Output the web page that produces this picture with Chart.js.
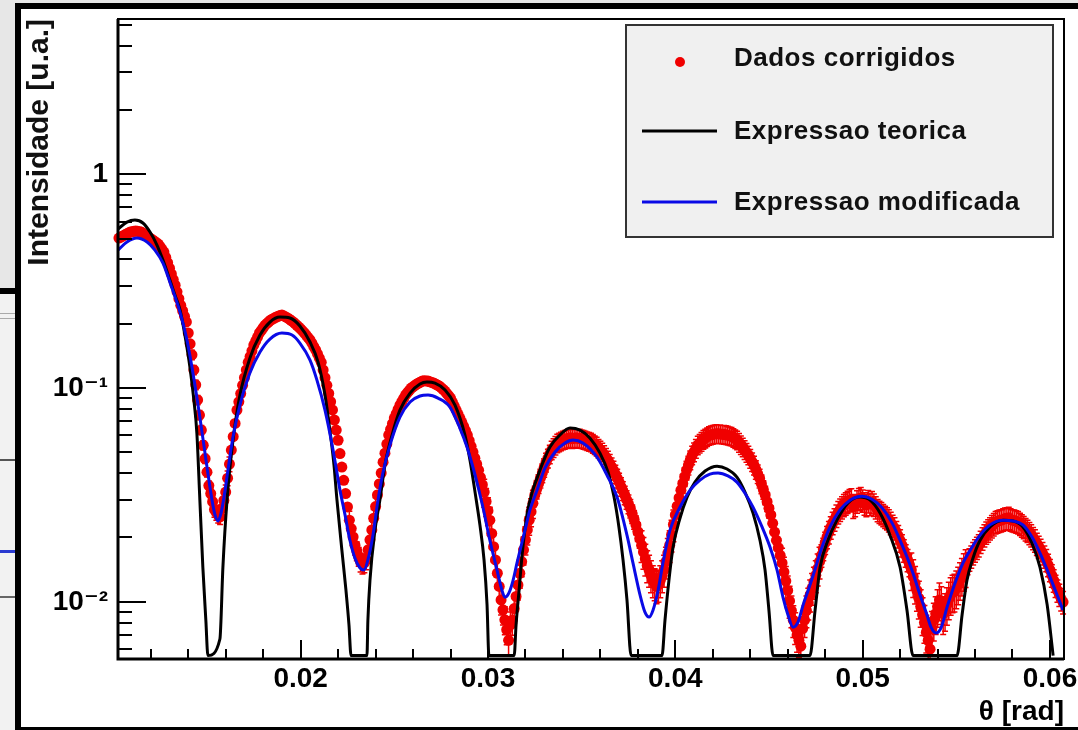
<!DOCTYPE html>
<html><head><meta charset="utf-8">
<script src="https://cdn.jsdelivr.net/npm/chart.js@4.4.1/dist/chart.umd.min.js"></script>
<style>html,body{margin:0;padding:0;background:#fff;overflow:hidden}canvas{display:block}</style>
</head><body>
<canvas id="c" width="1078" height="730"></canvas>
<script>
// ---------- data ----------
const thetaData = [
0.0103,0.0104,0.0105,0.0106,0.0107,0.0108,0.0109,0.0110,0.0111,0.0112,
0.0113,0.0114,0.0115,0.0116,0.0117,0.0118,0.0119,0.0120,0.0121,0.0122,
0.0123,0.0124,0.0125,0.0126,0.0127,0.0128,0.0129,0.0130,0.0131,0.0132,
0.0133,0.0134,0.0135,0.0136,0.0137,0.0138,0.0139,0.0140,0.0141,0.0142,
0.0143,0.0144,0.0145,0.0146,0.0147,0.0148,0.0149,0.0150,0.0151,0.0152,
0.0153,0.0154,0.0155,0.0156,0.0157,0.0158,0.0159,0.0160,0.0161,0.0162,
0.0163,0.0164,0.0165,0.0166,0.0167,0.0168,0.0169,0.0170,0.0171,0.0172,
0.0173,0.0174,0.0175,0.0176,0.0177,0.0178,0.0179,0.0180,0.0181,0.0182,
0.0183,0.0184,0.0185,0.0186,0.0187,0.0188,0.0189,0.0190,0.0191,0.0192,
0.0193,0.0194,0.0195,0.0196,0.0197,0.0198,0.0199,0.0200,0.0201,0.0202,
0.0203,0.0204,0.0205,0.0206,0.0207,0.0208,0.0209,0.0210,0.0211,0.0212,
0.0213,0.0214,0.0215,0.0216,0.0217,0.0218,0.0219,0.0220,0.0221,0.0222,
0.0223,0.0224,0.0225,0.0226,0.0227,0.0228,0.0229,0.0230,0.0231,0.0232,
0.0233,0.0234,0.0235,0.0236,0.0237,0.0238,0.0239,0.0240,0.0241,0.0242,
0.0243,0.0244,0.0245,0.0246,0.0247,0.0248,0.0249,0.0250,0.0251,0.0252,
0.0253,0.0254,0.0255,0.0256,0.0257,0.0258,0.0259,0.0260,0.0261,0.0262,
0.0263,0.0264,0.0265,0.0266,0.0267,0.0268,0.0269,0.0270,0.0271,0.0272,
0.0273,0.0274,0.0275,0.0276,0.0277,0.0278,0.0279,0.0280,0.0281,0.0282,
0.0283,0.0284,0.0285,0.0286,0.0287,0.0288,0.0289,0.0290,0.0291,0.0292,
0.0293,0.0294,0.0295,0.0296,0.0297,0.0298,0.0299,0.0300,0.0301,0.0302,
0.0303,0.0304,0.0305,0.0306,0.0307,0.0308,0.0309,0.0310,0.0311,0.0312,
0.0313,0.0314,0.0315,0.0316,0.0317,0.0318,0.0319,0.0320,0.0321,0.0322,
0.0323,0.0324,0.0325,0.0326,0.0327,0.0328,0.0329,0.0330,0.0331,0.0332,
0.0333,0.0334,0.0335,0.0336,0.0337,0.0338,0.0339,0.0340,0.0341,0.0342,
0.0343,0.0344,0.0345,0.0346,0.0347,0.0348,0.0349,0.0350,0.0351,0.0352,
0.0353,0.0354,0.0355,0.0356,0.0357,0.0358,0.0359,0.0360,0.0361,0.0362,
0.0363,0.0364,0.0365,0.0366,0.0367,0.0368,0.0369,0.0370,0.0371,0.0372,
0.0373,0.0374,0.0375,0.0376,0.0377,0.0378,0.0379,0.0380,0.0381,0.0382,
0.0383,0.0384,0.0385,0.0386,0.0387,0.0388,0.0389,0.0390,0.0391,0.0392,
0.0393,0.0394,0.0395,0.0396,0.0397,0.0398,0.0399,0.0400,0.0401,0.0402,
0.0403,0.0404,0.0405,0.0406,0.0407,0.0408,0.0409,0.0410,0.0411,0.0412,
0.0413,0.0414,0.0415,0.0416,0.0417,0.0418,0.0419,0.0420,0.0421,0.0422,
0.0423,0.0424,0.0425,0.0426,0.0427,0.0428,0.0429,0.0430,0.0431,0.0432,
0.0433,0.0434,0.0435,0.0436,0.0437,0.0438,0.0439,0.0440,0.0441,0.0442,
0.0443,0.0444,0.0445,0.0446,0.0447,0.0448,0.0449,0.0450,0.0451,0.0452,
0.0453,0.0454,0.0455,0.0456,0.0457,0.0458,0.0459,0.0460,0.0461,0.0462,
0.0463,0.0464,0.0465,0.0466,0.0467,0.0468,0.0469,0.0470,0.0471,0.0472,
0.0473,0.0474,0.0475,0.0476,0.0477,0.0478,0.0479,0.0480,0.0481,0.0482,
0.0483,0.0484,0.0485,0.0486,0.0487,0.0488,0.0489,0.0490,0.0491,0.0492,
0.0493,0.0494,0.0495,0.0496,0.0497,0.0498,0.0499,0.0500,0.0501,0.0502,
0.0503,0.0504,0.0505,0.0506,0.0507,0.0508,0.0509,0.0510,0.0511,0.0512,
0.0513,0.0514,0.0515,0.0516,0.0517,0.0518,0.0519,0.0520,0.0521,0.0522,
0.0523,0.0524,0.0525,0.0526,0.0527,0.0528,0.0529,0.0530,0.0531,0.0532,
0.0533,0.0534,0.0535,0.0536,0.0537,0.0538,0.0539,0.0540,0.0541,0.0542,
0.0543,0.0544,0.0545,0.0546,0.0547,0.0548,0.0549,0.0550,0.0551,0.0552,
0.0553,0.0554,0.0555,0.0556,0.0557,0.0558,0.0559,0.0560,0.0561,0.0562,
0.0563,0.0564,0.0565,0.0566,0.0567,0.0568,0.0569,0.0570,0.0571,0.0572,
0.0573,0.0574,0.0575,0.0576,0.0577,0.0578,0.0579,0.0580,0.0581,0.0582,
0.0583,0.0584,0.0585,0.0586,0.0587,0.0588,0.0589,0.0590,0.0591,0.0592,
0.0593,0.0594,0.0595,0.0596,0.0597,0.0598,0.0599,0.0600,0.0601,0.0602,
0.0603,0.0604,0.0605,0.0606,0.0607];
const intensData = [
0.503,0.509,0.514, 0.520,0.526,0.531, 0.537,0.539,0.541, 0.543,0.541,0.539, 0.537,0.529,0.522,
0.514,0.507,0.500, 0.493,0.486,0.479, 0.472,0.459,0.446, 0.433,0.409,0.386, 0.364,0.342,0.322,
0.303,0.282,0.262, 0.244,0.230,0.2166, 0.204,0.181,0.161, 0.143,0.1216,0.1035, 0.088,0.0748,0.0636,
0.054,0.0467,0.0404, 0.035,0.0321,0.0294, 0.027,0.0262,0.0254, 0.025,0.0273,0.0298, 0.0326,0.0379,0.0441,
0.0513,0.0592,0.0683, 0.0789,0.0862,0.0942, 0.103,0.1119,0.1215, 0.132,0.1404,0.1494, 0.159,0.166,0.1733,
0.181,0.186,0.1915, 0.197,0.2006,0.2043, 0.208,0.2103,0.2126, 0.215,0.2166,0.2183, 0.220,0.2176,0.2153,
0.213,0.210,0.207, 0.204,0.2003,0.1966, 0.193,0.189,0.185, 0.181,0.1766,0.1722, 0.168,0.1621,0.1564,
0.151,0.1444,0.138, 0.132,0.1215,0.1119, 0.103,0.0943,0.0863, 0.079,0.0709,0.0636, 0.057,0.0494,0.0427,
0.037,0.0321,0.0278, 0.0241,0.0220,0.0201, 0.0184,0.0173,0.0163, 0.0153,0.0150,0.0152, 0.0157,0.0175,0.0195,
0.0217,0.0246,0.0279, 0.0316,0.0356,0.0400, 0.045,0.0496,0.0547, 0.0603,0.0641,0.0681, 0.0724,0.0758,0.0794,
0.0832,0.0863,0.0894, 0.0927,0.0951,0.0975, 0.100,0.1014,0.1029, 0.1044,0.1055,0.1067, 0.1078,0.1082,0.1080,
0.1078,0.1070,0.1063, 0.1055,0.1044,0.1033, 0.1022,0.1004,0.0986, 0.0968,0.0944,0.0921, 0.0898,0.0860,0.0824,
0.0789,0.0756,0.0724, 0.0693,0.0662,0.0632, 0.0603,0.0567,0.0534, 0.0502,0.0470,0.0441, 0.0413,0.0382,0.0353,
0.0326,0.0295,0.0267, 0.0241,0.0209,0.0181, 0.0157,0.0136,0.0118, 0.0102,0.00917,0.00824, 0.0074,0.0066,0.0078,
0.0082,0.0093,0.0106, 0.012,0.0136,0.0154, 0.0175,0.0195,0.0217, 0.0241,0.0264,0.0289, 0.0316,0.0336,0.0357,
0.0379,0.0401,0.0425, 0.045,0.0470,0.0491, 0.0513,0.0526,0.0540, 0.0553,0.0559,0.0565, 0.0571,0.0575,0.0579,
0.0583,0.0585,0.0580, 0.0583,0.0586,0.0581, 0.0583,0.0579,0.0575, 0.0571,0.0567,0.0563, 0.0559,0.0551,0.0543,
0.0535,0.0523,0.0513, 0.0502,0.0488,0.0474, 0.046,0.0444,0.0428, 0.0413,0.0396,0.0379, 0.0363,0.0346,0.0331,
0.0316,0.0301,0.0287, 0.0274,0.0258,0.0243, 0.0229,0.0213,0.0198, 0.0184,0.0171,0.0159, 0.0148,0.0141,0.0133,
0.0126,0.0122,0.0118, 0.012,0.0126,0.0133, 0.0141,0.0154,0.0169, 0.0184,0.0206,0.0230, 0.0255,0.0280,0.0306,
0.0333,0.0358,0.0385, 0.0413,0.0436,0.0461, 0.0486,0.0503,0.0522, 0.0541,0.0552,0.0563, 0.0575,0.0583,0.0592,
0.0600,0.0604,0.0607, 0.0610,0.0612,0.0611, 0.0610,0.0608,0.0607, 0.0605,0.0602,0.0598, 0.0595,0.0587,0.0579,
0.0571,0.0557,0.0543, 0.053,0.0515,0.0500, 0.0486,0.0469,0.0452, 0.0436,0.0416,0.0397, 0.0379,0.0356,0.0335,
0.0316,0.0294,0.0274, 0.0255,0.0233,0.0212, 0.0194,0.0179,0.0165, 0.0152,0.0138,0.0125, 0.0113,0.0101,0.0091,
0.0082,0.0076,0.0070, 0.0066,0.0062,0.0075, 0.0082,0.0091,0.0099, 0.0108,0.0116,0.0124, 0.0133,0.0143,0.0154,
0.0165,0.0177,0.0189, 0.0201,0.0212,0.0223, 0.0234,0.0243,0.0253, 0.0263,0.0270,0.0277, 0.0284,0.0289,0.0294,
0.0299,0.0302,0.0279, 0.0284,0.0295,0.0303, 0.0306,0.0298,0.0289, 0.0284,0.0296,0.0287, 0.0293,0.0285,0.0277,
0.0269,0.0264,0.0260, 0.0255,0.0250,0.0246, 0.0241,0.0234,0.0227, 0.0221,0.0212,0.0203, 0.0194,0.0184,0.0174,
0.0165,0.0157,0.0149, 0.0141,0.0131,0.0122, 0.0113,0.0104,0.0095, 0.0087,0.0080,0.0072, 0.0066,0.0060,0.0075,
0.0082,0.0088,0.0095, 0.0102,0.0098,0.0088, 0.0091,0.0097,0.0103, 0.0108,0.0111,0.0112, 0.0116,0.0121,0.0127,
0.0133,0.0140,0.0146, 0.0152,0.0158,0.0163, 0.0169,0.0174,0.0179, 0.0184,0.0191,0.0198, 0.0205,0.0211,0.0216,
0.0221,0.0226,0.0231, 0.0236,0.0238,0.0240, 0.0241,0.0243,0.0245, 0.0246,0.0247,0.0243, 0.0241,0.0240,0.0238,
0.0236,0.0232,0.0228, 0.0224,0.0219,0.0215, 0.021,0.0205,0.0199, 0.0194,0.0187,0.0181, 0.0175,0.0169,0.0163,
0.0157,0.0149,0.0141, 0.0133,0.0126,0.0119, 0.0113,0.0108,0.0103, 0.00997];
const relErrData = [
0.03,0.03,0.03,0.03,0.03,0.03,0.03,0.03,0.03,0.03,0.03,0.03,0.03,0.03,0.03,0.03,0.03,0.03,0.03,0.03,
0.03,0.03,0.03,0.03,0.03,0.03,0.03,0.03,0.03,0.03,0.03,0.03,0.03,0.03,0.03,0.03,0.03,0.03,0.03,
0.05,0.05,0.05,0.05,0.05,0.05,0.05,0.05,0.05,0.05,0.05,0.05,
0.08,0.08,0.08,0.08,0.08,0.08,0.08,0.08,0.08,
0.03,0.03,0.03,0.03,0.03,0.03,0.03,0.03,0.03,0.03,0.03,0.03,0.03,0.03,0.03,0.03,0.03,0.03,0.03,0.03,0.03,
0.03,0.03,0.03,0.03,0.03,0.03,0.03,0.03,0.03,0.03,0.03,0.03,0.03,0.03,0.03,0.03,0.03,0.03,0.03,0.03,0.03,
0.03,0.03,0.03,0.03,0.03,0.03,0.03,0.03,0.03,0.03,0.03,0.03,0.03,0.03,0.03,0.03,0.03,0.03,0.03,0.03,0.03,
0.10,0.10,0.10,0.10,0.10,0.10,0.10,0.10,0.10,0.10,0.10,0.10,0.10,0.10,0.10,
0.04,0.04,0.04,0.04,0.04,0.04,0.04,0.04,0.04,0.04,0.04,0.04,0.04,0.04,0.04,0.04,0.04,0.04,0.04,
0.04,0.04,0.04,0.04,0.04,0.04,0.04,0.04,0.04,0.04,0.04,0.04,0.04,0.04,0.04,0.04,0.04,0.04,0.04,
0.04,0.04,0.04,0.04,0.04,0.04,0.04,0.04,0.04,0.04,0.04,0.04,0.04,0.04,0.04,0.04,0.04,0.04,0.04,
0.15,0.15,0.15,0.15,0.15,0.15,0.15,0.15,0.15,0.15,0.15,0.15,0.15,0.15,0.15,0.15,0.15,0.15,0.15,0.15,0.15,0.15,0.15,0.15,0.15,0.15,0.15,
0.10,0.10,0.10,0.10,0.10,0.10,0.10,0.10,0.10,0.10,0.10,0.10,0.10,0.10,0.10,0.10,0.10,0.10,0.10,
0.10,0.10,0.10,0.10,0.10,0.10,0.10,0.10,0.10,0.10,0.10,0.10,0.10,0.10,0.10,0.10,0.10,0.10,0.10,
0.10,0.10,0.10,0.10,0.10,0.10,0.10,0.10,0.10,0.10,0.10,0.10,0.10,0.10,0.10,0.10,0.10,0.10,0.10,
0.17,0.17,0.17,0.17,0.17,0.17,0.17,0.17,0.17,0.17,0.17,0.17,0.17,0.17,0.17,0.17,0.17,0.17,
0.10,0.10,0.10,0.10,0.10,0.10,0.10,0.10,0.10,0.10,0.10,0.10,0.10,0.10,0.10,0.10,0.10,0.10,0.10,
0.10,0.10,0.10,0.10,0.10,0.10,0.10,0.10,0.10,0.10,0.10,0.10,0.10,0.10,0.10,0.10,0.10,0.10,0.10,
0.10,0.10,0.10,0.10,0.10,0.10,0.10,0.10,0.10,0.10,0.10,0.10,0.10,0.10,0.10,0.10,0.10,0.10,0.10,
0.17,0.17,0.17,0.17,0.17,0.17,0.17,0.17,0.17,0.17,0.17,0.17,0.17,0.17,0.17,0.17,0.17,0.17,0.17,0.17,0.17,
0.12,0.12,0.12,0.12,0.12,0.12,0.12,0.12,0.12,0.12,0.12,0.12,0.12,0.12,0.12,0.12,
0.12,0.12,0.12,0.12,0.12,0.12,0.12,0.12,0.12,0.12,0.12,0.12,0.12,0.12,0.12,0.12,
0.12,0.12,0.12,0.12,0.12,0.12,0.12,0.12,0.12,0.12,0.12,0.12,0.12,0.12,0.12,0.12,
0.20,0.20,0.20,0.20,0.20,0.20,0.20,0.20,0.20,0.20,0.20,0.20,0.20,0.20,0.20,
0.20,0.20,0.20,0.20,0.20,0.20,0.20,0.20,0.20,0.20,0.20,0.20,0.20,0.20,0.20,
0.12,0.12,0.12,0.12,0.12,0.12,0.12,0.12,0.12,0.12,0.12,0.12,0.12,
0.12,0.12,0.12,0.12,0.12,0.12,0.12,0.12,0.12,0.12,0.12,0.12,0.12,
0.12,0.12,0.12,0.12,0.12,0.12,0.12,0.12,0.12,0.12,0.12,0.12,0.12,
0.12,0.12,0.12,0.12,0.12,0.12,0.12,0.12,0.12,0.12,0.12,0.12,0.12];

const thetaTeorica = [
0.01025,0.01073,0.01115,0.01158,0.01196,0.01233,0.01265,0.01302,0.01329,0.01356,0.01382,0.01409,0.01430,0.01446,0.01462,0.01478,0.01494,0.01505,
0.01569,0.01585,0.01607,0.01639,0.01676,0.01729,0.01783,0.01836,0.0189,0.01943,0.01996,0.0205,0.02093,0.0213,0.02156,0.02178,0.02194,0.0222,0.02242,0.02258,0.02269,
0.02354,0.02359,0.0237,0.02397,0.02423,0.0245,0.02488,0.0253,0.02584,0.02637,0.02674,0.02717,0.02771,0.02824,0.02877,0.02904,0.02931,0.02957,0.02979,0.02995,0.03005,
0.0314,0.0315,0.03166,0.03182,0.03208,0.03235,0.03262,0.03294,0.03331,0.03384,0.03438,0.03491,0.03545,0.03598,0.03641,0.03673,0.03699,0.03721,0.03742,0.03764,
0.03929,0.03945,0.03966,0.03988,0.04025,0.04063,0.04105,0.04159,0.04223,0.04276,0.04329,0.04372,0.04415,0.04452,0.04479,0.045,0.04522,
0.04719,0.04746,0.04773,0.04815,0.04863,0.04922,0.04986,0.0504,0.05093,0.05146,0.052,0.05237,0.05269,
0.05504,0.05531,0.05557,0.05589,0.05627,0.0568,0.0575,0.05803,0.05856,0.05904,0.05947,0.05985,0.06017];
const intensTeorica = [
0.555,0.598,0.611,0.592,0.537,0.467,0.397,0.320,0.272,0.232,0.177,0.125,0.0879,0.0616,0.0299,0.0145,0.0082,0.0056,
0.0067,0.0145,0.0299,0.0571,0.0927,0.138,0.177,0.2036,0.2149,0.2126,0.195,0.1642,0.1323,0.0927,0.0636,0.0436,0.0299,0.0175,0.0113,0.0078,0.0056,
0.0056,0.0082,0.0126,0.0217,0.0299,0.0436,0.0603,0.0789,0.0947,0.1044,0.1067,0.1055,0.0979,0.0832,0.0603,0.046,0.0326,0.0229,0.0157,0.0097,0.0056,
0.0056,0.0078,0.0113,0.0165,0.0255,0.0323,0.0379,0.045,0.053,0.0603,0.065,0.0636,0.0583,0.0496,0.0404,0.0309,0.0224,0.0157,0.0102,0.0056,
0.0056,0.0082,0.0126,0.018,0.0246,0.0309,0.0363,0.0409,0.0431,0.0418,0.0383,0.0326,0.026,0.0194,0.0141,0.0091,0.0056,
0.0056,0.0091,0.0145,0.0194,0.0241,0.029,0.0309,0.0299,0.026,0.0205,0.0145,0.0091,0.0056,
0.0056,0.0087,0.0126,0.016,0.0194,0.0224,0.0241,0.0239,0.0224,0.0188,0.0145,0.0097,0.0056];

const thetaModificada = [
0.01025,0.01073,0.01126,0.0118,0.01222,0.01265,0.01302,0.01356,0.01393,0.01425,
0.01462,0.015,0.01527,0.01543,0.01559,0.01575,0.01591,0.01612,0.01639,0.01676,
0.01729,0.01783,0.01836,0.019,0.01954,0.01996,0.0205,0.02087,0.0213,0.02173,
0.0221,0.02237,0.02263,0.0229,0.02317,0.02338,0.02359,0.02386,0.02413,0.02439,
0.02477,0.0253,0.02584,0.02637,0.0268,0.02733,0.02797,0.0285,0.02888,0.02931,
0.02973,0.0301,0.03048,0.03075,0.03091,0.03112,0.03134,0.03155,0.03198,0.03224,
0.03262,0.03304,0.03358,0.03411,0.03454,0.03507,0.03582,0.03635,0.03689,0.03742,
0.03774,0.03812,0.03838,0.0386,0.03881,0.03908,0.03934,0.03972,0.04025,0.04079,
0.04132,0.04185,0.04228,0.04281,0.04329,0.04372,0.04415,0.04463,0.04506,0.04543,
0.04575,0.04602,0.04628,0.04655,0.04682,0.04709,0.04736,0.04783,0.04826,0.04879,
0.04933,0.04997,0.0505,0.05104,0.05157,0.052,0.05237,0.05269,0.05306,0.05344,
0.05365,0.05392,0.05418,0.05451,0.05493,0.05536,0.05584,0.05627,0.0568,0.0575,
0.05803,0.05856,0.05904,0.05947,0.05985,0.06017,0.0607];
const intensModificada = [
0.442,0.482,0.503,0.482,0.442,0.3845,0.313,0.2268,0.168,0.1175,
0.0731,0.0427,0.0299,0.0255,0.0239,0.026,0.0309,0.0413,0.059,0.0832,
0.1175,0.1474,0.1696,0.1809,0.177,0.1624,0.1352,0.109,0.0789,0.0513,
0.0333,0.0255,0.0194,0.016,0.0144,0.0141,0.0157,0.0205,0.0299,0.04,
0.0541,0.0731,0.086,0.0918,0.0927,0.0898,0.0815,0.065,0.053,0.0392,
0.0277,0.0194,0.0141,0.0113,0.0105,0.011,0.0126,0.0152,0.0217,0.0269,
0.0333,0.0422,0.0502,0.0553,0.0571,0.0553,0.0475,0.0392,0.0309,0.0205,
0.0152,0.01075,0.00895,0.00848,0.00914,0.0113,0.0152,0.0217,0.0277,0.0333,
0.0371,0.0396,0.04,0.0388,0.0363,0.0322,0.0277,0.0224,0.018,0.0141,
0.0105,0.00866,0.00761,0.00804,0.00965,0.0113,0.0133,0.018,0.0224,0.0269,
0.0299,0.0312,0.0302,0.0275,0.0234,0.0194,0.0162,0.0136,0.0108,0.00866,
0.00761,0.00714,0.00753,0.00945,0.0122,0.0152,0.018,0.0205,0.0229,0.0241,
0.0239,0.0229,0.0201,0.0169,0.0141,0.012,0.00914];

const seriesNames = ['Dados corrigidos','Expressao teorica','Expressao modificada'];
const xTicks = [0.02,0.03,0.04,0.05,0.06];
const xTickLabels = ['0.02','0.03','0.04','0.05','0.06'];
const yTicks = [0.01,0.1,1];
const yTickLabels = ['10\u207B\u00B2','10\u207B\u00B9','1'];
const xTitle = '\u03B8 [rad]';
const yTitle = 'Intensidade [u.a.]';

// ---------- styles ----------
const F = "'Liberation Sans', Arial, Helvetica, 'DejaVu Sans', sans-serif";
const RED = '#f00000';
const BLUE = '#0a0ae6';

const bgPlugin = {
  id:'bg',
  beforeDraw(chart){
    const ctx = chart.ctx, W = chart.width, H = chart.height;
    ctx.save();
    ctx.fillStyle = '#fff'; ctx.fillRect(0,0,W,H);
    ctx.fillStyle = '#e7e7e7'; ctx.fillRect(0,0,15,288);
    ctx.fillRect(15,0,W-15,3);
    ctx.fillStyle = '#000'; ctx.fillRect(0,288,15,6);
    ctx.fillStyle = '#f2f2f2'; ctx.fillRect(0,294,15,436);
    ctx.fillStyle = '#aaa'; ctx.fillRect(0,313,15,1); ctx.fillRect(0,318,15,1);
    ctx.fillStyle = '#555'; ctx.fillRect(0,459,15,2);
    ctx.fillStyle = '#2a3ad0'; ctx.fillRect(0,550,15,3);
    ctx.fillStyle = '#666'; ctx.fillRect(0,596,15,2);
    ctx.fillStyle = '#000';
    ctx.fillRect(15,3,W-15,6);
    ctx.fillRect(15,3,6,H-3);
    ctx.fillRect(15,727,W-15,3);
    ctx.restore();
  }
};

const errPlugin = {
  id:'errbars',
  beforeDatasetDraw(chart, args){
    if (args.index !== 0) return;
    const {ctx, chartArea:a} = chart;
    const xs = chart.scales.x, ys = chart.scales.y;
    ctx.save();
    ctx.beginPath(); ctx.rect(a.left-8, a.top, a.right-a.left+16, a.bottom-a.top); ctx.clip();
    ctx.strokeStyle = RED; ctx.lineWidth = 1.5;
    ctx.beginPath();
    for (let i=0;i<thetaData.length;i++){
      const v = intensData[i], e = v*relErrData[i];
      const px = xs.getPixelForValue(thetaData[i]);
      const y1 = ys.getPixelForValue(v-e), y2 = ys.getPixelForValue(v+e);
      ctx.moveTo(px,y1); ctx.lineTo(px,y2);
      ctx.moveTo(px-3,y1); ctx.lineTo(px+3,y1);
      ctx.moveTo(px-3,y2); ctx.lineTo(px+3,y2);
    }
    ctx.stroke();
    ctx.restore();
  }
};

const framePlugin = {
  id:'frame',
  afterDatasetsDraw(chart){
    const {ctx, chartArea:a} = chart;
    const xs = chart.scales.x, ys = chart.scales.y;
    ctx.save();
    ctx.strokeStyle = '#000';
    ctx.lineWidth = 2;
    ctx.strokeRect(a.left, a.top, a.right-a.left, a.bottom-a.top);
    ctx.lineWidth = 3;
    ctx.beginPath();
    ctx.moveTo(a.left, a.top); ctx.lineTo(a.left, a.bottom); ctx.lineTo(a.right, a.bottom);
    ctx.stroke();
    ctx.lineWidth = 2;
    ctx.beginPath();
    for (let i=5;i<=31;i++){
      const v = i*0.002;
      if (v < xs.min || v > xs.max) continue;
      const px = Math.round(xs.getPixelForValue(v));
      const len = (i%5===0) ? 19 : 10;
      ctx.moveTo(px, a.bottom); ctx.lineTo(px, a.bottom-len);
    }
    for (let e=-3;e<=0;e++){
      for (let m=1;m<=9;m++){
        const v = m*Math.pow(10,e);
        if (v < ys.min || v > ys.max) continue;
        const py = Math.round(ys.getPixelForValue(v));
        const len = (m===1) ? 28 : 14;
        ctx.moveTo(a.left, py); ctx.lineTo(a.left+len, py);
      }
    }
    ctx.stroke();
    ctx.restore();
  }
};

const legendPlugin = {
  id:'rootLegend',
  afterDraw(chart){
    const ctx = chart.ctx;
    const ds = chart.data.datasets;
    ctx.save();
    ctx.fillStyle = '#f0f0f0';
    ctx.fillRect(626,25,427,212);
    ctx.strokeStyle = '#333'; ctx.lineWidth = 2;
    ctx.strokeRect(626,25,427,212);
    ctx.font = 'bold 26px ' + F;
    try { ctx.letterSpacing = '0.5px'; } catch(e) {}
    ctx.textBaseline = 'alphabetic'; ctx.textAlign = 'left';
    const baselines = [66,139,210];
    const marks = [62,131,202];
    ctx.fillStyle = ds[0].pointBackgroundColor;
    ctx.beginPath(); ctx.arc(680, marks[0], 5, 0, Math.PI*2); ctx.fill();
    [1,2].forEach(k=>{
      ctx.strokeStyle = ds[k].borderColor; ctx.lineWidth = 3;
      ctx.beginPath(); ctx.moveTo(642, marks[k]); ctx.lineTo(717, marks[k]); ctx.stroke();
    });
    ctx.fillStyle = '#111';
    ds.forEach((d,k)=>{ ctx.fillText(d.label, 734, baselines[k]); });
    ctx.restore();
  }
};

new Chart(document.getElementById('c'), {
  type:'scatter',
  data:{datasets:[
    {label:seriesNames[0], data: thetaData.map((t,i)=>({x:t,y:intensData[i]})),
     showLine:false, pointRadius:5.5, pointHoverRadius:5.5, pointBackgroundColor:RED, pointBorderWidth:0, pointBorderColor:RED, order:3, clip:false},
    {label:seriesNames[1], data: thetaTeorica.map((t,i)=>({x:t,y:intensTeorica[i]})),
     showLine:true, borderColor:'#000', borderWidth:3, pointRadius:0, cubicInterpolationMode:'monotone', borderJoinStyle:'round', order:2},
    {label:seriesNames[2], data: thetaModificada.map((t,i)=>({x:t,y:intensModificada[i]})),
     showLine:true, borderColor:BLUE, borderWidth:3, pointRadius:0, cubicInterpolationMode:'monotone', borderJoinStyle:'round', order:1}
  ]},
  options:{
    responsive:false, animation:false, devicePixelRatio:1, events:[],
    layout:{padding:{left:0, top:19, right:14, bottom:0}},
    plugins:{legend:{display:false}, tooltip:{enabled:false}},
    scales:{
      x:{type:'linear', position:'bottom', min:0.01025, max:0.06075,
        grid:{display:false, drawTicks:false}, border:{display:false},
        afterBuildTicks:(s)=>{ s.ticks = xTicks.map(v=>({value:v})); },
        afterFit:(s)=>{ s.height = 71; s.paddingLeft = 0; s.paddingRight = 0; },
        ticks:{autoSkip:false, maxRotation:0, minRotation:0, padding:3, color:'#000',
          font:{family:F, size:28, weight:'bold'},
          callback:(v,i)=>xTickLabels[i]},
        title:{display:true, text:xTitle, align:'end', color:'#000',
          font:{family:F, size:28, weight:'bold', lineHeight:1}, padding:{top:0, bottom:4}}
      },
      y:{type:'logarithmic', position:'left', min:0.0054, max:5.33,
        grid:{display:false, drawTicks:false}, border:{display:false},
        afterBuildTicks:(s)=>{ s.ticks = yTicks.map(v=>({value:v})); },
        afterFit:(s)=>{ s.width = 118; s.paddingTop = 0; s.paddingBottom = 0; },
        ticks:{autoSkip:false, padding:10, color:'#000',
          font:{family:F, size:28, weight:'bold'},
          callback:(v,i)=>yTickLabels[i]},
        title:{display:true, text:yTitle, align:'end', color:'#111',
          font:{family:F, size:30, weight:'bold', lineHeight:1}, padding:{top:25, bottom:0}}
      }
    }
  },
  plugins:[bgPlugin, errPlugin, framePlugin, legendPlugin]
});
</script>
</body></html>
